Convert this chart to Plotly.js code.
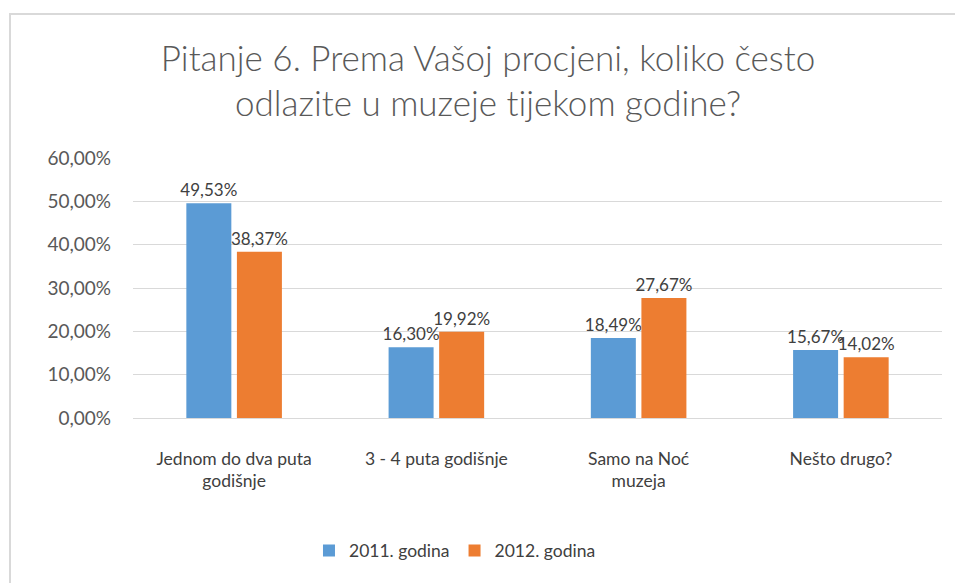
<!DOCTYPE html>
<html><head><meta charset="utf-8">
<script src="https://cdn.plot.ly/plotly-3.0.1.min.js"></script>
<style>html,body{margin:0;padding:0;background:#fff;overflow:hidden}
#frame{position:absolute;left:9px;top:13px;width:1000px;height:1000px;border:2px solid #d9d9d9;pointer-events:none}
svg text{font-variant-ligatures:none;font-feature-settings:"liga" 0}
</style></head>
<body>
<div id="chart" style="width:955px;height:583px"></div>
<div id="frame"></div>
<script>
const categories = ["Jednom do dva puta<br>godišnje", "3 - 4 puta godišnje", "Samo na Noć<br>muzeja", "Nešto drugo?"];
const series2011 = [49.53, 16.30, 18.49, 15.67];
const series2012 = [38.37, 19.92, 27.67, 14.02];
const seriesNames = ["2011. godina", "2012. godina"];
const tickValues = [0, 10, 20, 30, 40, 50, 60];
const tickLabels = ["0,00%", "10,00%", "20,00%", "30,00%", "40,00%", "50,00%", "60,00%"];

const fontFam = "Lato, 'Open Sans', sans-serif";
const mk = (y, name, color) => ({
  type: 'bar', x: categories, y: y, name: name,
  marker: {color: color},
  texttemplate: '%{y:.2f}%', textposition: 'outside', cliponaxis: false,
  constraintext: 'none',
  textfont: {size: 17, color: '#404040', family: fontFam},
  hoverinfo: 'none'
});
const data = [mk(series2011, seriesNames[0], '#5B9BD5'), mk(series2012, seriesNames[1], '#ED7D31')];
const layout = {
  width: 955, height: 583,
  margin: {l: 133, r: 13, t: 158, b: 165},
  separators: ',.',
  paper_bgcolor: '#fff', plot_bgcolor: '#fff',
  font: {family: fontFam, color: '#595959'},
  title: {text: 'Pitanje 6. Prema Vašoj procjeni, koliko često<br>odlazite u muzeje tijekom godine?',
    font: {size: 35, color: '#595959', family: fontFam, weight: 300},
    x: 0.511, xref: 'container', xanchor: 'center', y: 0.879, yanchor: 'middle'},
  bargap: 0.5, bargroupgap: 0.11, barmode: 'group',
  xaxis: {tickfont: {size: 17.5, color: '#404040'}, showline: false, ticks: '', fixedrange: true,
    ticklabelstandoff: 28},
  yaxis: {range: [0, 60], tickmode: 'array', tickvals: tickValues, ticktext: tickLabels,
    tickfont: {size: 19, color: '#595959'}, gridcolor: '#d9d9d9', gridwidth: 1,
    zeroline: true, zerolinecolor: '#d9d9d9', zerolinewidth: 1, ticks: '', ticklen: 0,
    ticklabelstandoff: 21, automargin: false},
  legend: {orientation: 'h', x: 0.398, xanchor: 'center', y: -0.51, yanchor: 'middle',
    font: {size: 17.5, color: '#404040'}, itemwidth: 30, traceorder: 'normal'},
  showlegend: true
};
Plotly.newPlot('chart', data, layout, {staticPlot: true, displayModeBar: false});
</script>
</body></html>
